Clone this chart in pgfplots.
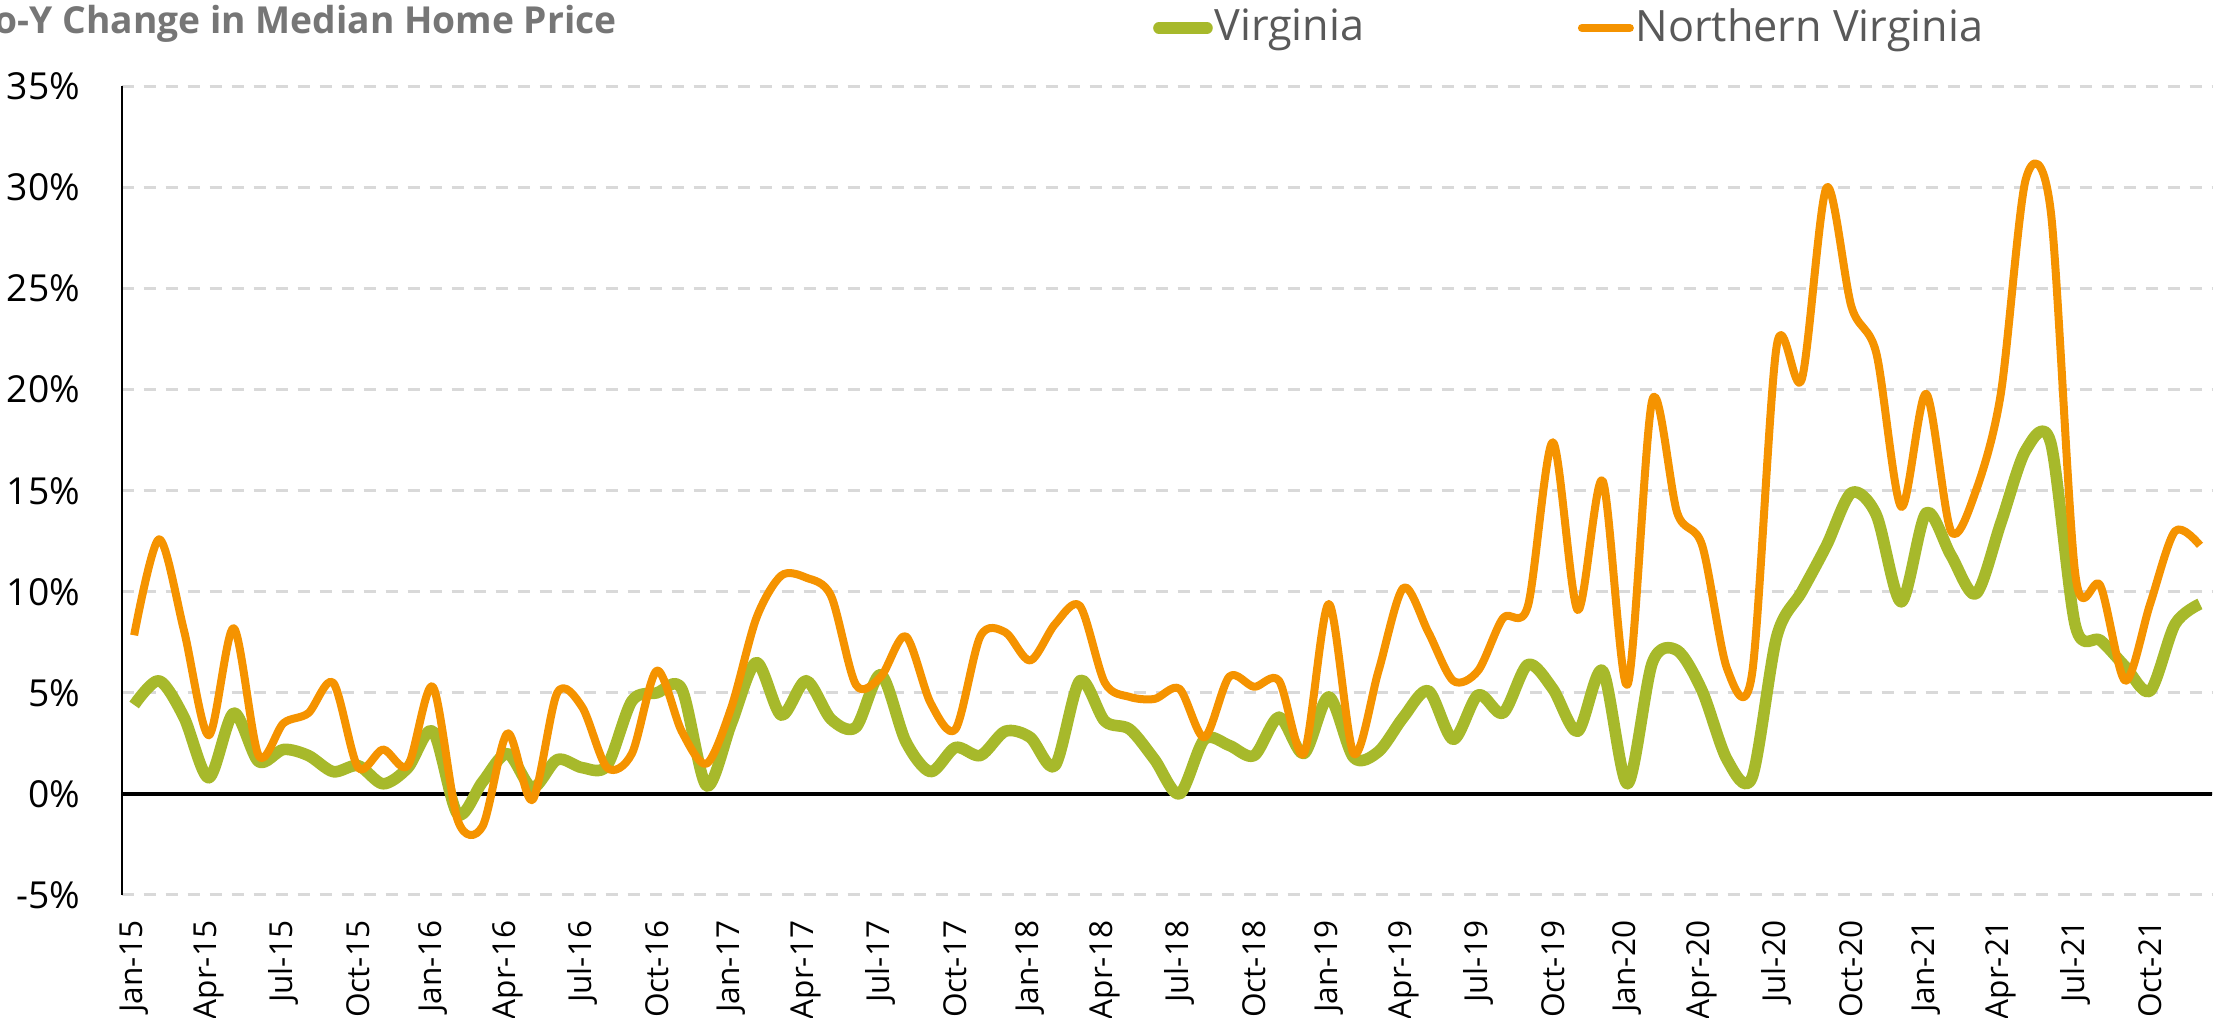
\documentclass[border=0pt]{standalone}
\usepackage{fontspec}
\setmainfont{Open Sans}
\usepackage{pgfplots}
\usepackage{pgfplotstable}
\pgfplotsset{compat=1.18}
\definecolor{vagreen}{HTML}{A7B92B}
\definecolor{novaorange}{HTML}{F59300}
\definecolor{gridgray}{HTML}{D9D9D9}
\definecolor{legendgray}{HTML}{595959}
\definecolor{titlegray}{HTML}{767676}

% month index (0 = Jan-15), Virginia, Northern Virginia (Y-o-Y %)
\pgfplotstableread{
idx va nova
0 4.4 7.85
1 5.6 12.6
2 3.8 8.1
3 0.8 2.9
4 4.0 8.2
5 1.6 1.9
6 2.2 3.5
7 1.9 4.0
8 1.1 5.5
9 1.4 1.3
10 0.5 2.2
11 1.3 1.4
12 3.1 5.3
13 -1.0 -1.3
14 0.6 -1.6
15 2.0 3.0
16 0.3 -0.3
17 1.7 5.0
18 1.3 4.3
19 1.4 1.3
20 4.6 2.0
21 5.0 6.1
22 5.2 3.1
23 0.4 1.5
24 3.5 4.3
25 6.5 8.7
26 3.9 10.8
27 5.6 10.7
28 3.7 9.8
29 3.3 5.4
30 5.9 5.8
31 2.6 7.8
32 1.1 4.5
33 2.3 3.2
34 1.9 7.8
35 3.1 8.0
36 2.8 6.6
37 1.4 8.4
38 5.6 9.3
39 3.6 5.5
40 3.2 4.8
41 1.7 4.7
42 0.0 5.2
43 2.7 2.8
44 2.4 5.8
45 1.9 5.3
46 3.8 5.6
47 2.0 2.0
48 4.8 9.4
49 1.8 2.0
50 2.1 6.1
51 3.8 10.2
52 5.1 8.0
53 2.7 5.6
54 4.9 6.1
55 4.0 8.7
56 6.4 9.3
57 5.2 17.4
58 3.1 9.1
59 6.1 15.5
60 0.5 5.4
61 6.5 19.5
62 7.1 13.9
63 5.1 12.3
64 1.7 6.2
65 0.8 5.9
66 7.8 22.2
67 10.0 20.5
68 12.3 30.0
69 14.9 24.1
70 13.8 21.8
71 9.5 14.2
72 13.9 19.8
73 11.8 13.0
74 9.9 15.0
75 13.4 19.8
76 17.0 30.4
77 17.4 28.9
78 8.3 10.8
79 7.6 10.3
80 6.3 5.6
81 5.1 9.4
82 8.4 13.0
83 9.4 12.3
}\pricedata

\begin{document}
\begin{tikzpicture}
\useasboundingbox (0,0) rectangle (555.25pt,254.5pt);
\begin{axis}[
    at={(30.425pt,30.75pt)}, anchor=south west,
    scale only axis,
    width=522.675pt, height=202.125pt,
    xmin=-0.5, xmax=83.5,
    ymin=-5, ymax=35,
    xtick={0,3,...,81},
    xticklabels={Jan-15,Apr-15,Jul-15,Oct-15,Jan-16,Apr-16,Jul-16,Oct-16,
        Jan-17,Apr-17,Jul-17,Oct-17,Jan-18,Apr-18,Jul-18,Oct-18,
        Jan-19,Apr-19,Jul-19,Oct-19,Jan-20,Apr-20,Jul-20,Oct-20,
        Jan-21,Apr-21,Jul-21,Oct-21},
    ytick={-5,0,...,35},
    yticklabel={\pgfmathprintnumber{\tick}\%},
    /pgf/number format/assume math mode=true,
    axis x line*=bottom,
    axis y line*=left,
    x axis line style={draw=none},
    y axis line style={black, line width=0.5pt, -},
    major tick length=0pt,
    ymajorgrids,
    major grid style={gridgray, line width=0.75pt, dash pattern=on 3pt off 2.5pt},
    extra y ticks={0},
    extra y tick labels={},
    extra y tick style={grid=major, major grid style={black, solid, line width=1pt}},
    xticklabel style={font=\fontsize{7.9}{9}\selectfont, rotate=90, anchor=east, inner sep=0pt},
    xticklabel shift=6.25pt,
    yticklabel style={font=\fontsize{9.3}{11}\selectfont, anchor=east, inner sep=0pt},
    yticklabel shift=10.25pt,
    legend style={at={(0.4930,1.0724)}, anchor=west, draw=none, fill=none,
        legend columns=2, font=\fontsize{10.8}{13}\selectfont, text=legendgray,
        inner sep=0pt, nodes={inner sep=0.4pt},
        /tikz/every even column/.append style={column sep=53pt}},
    legend image code/.code={\draw[#1, line cap=round] (0pt,0pt) -- (12pt,0pt);},
]
\addplot[vagreen, line width=2.9pt, smooth, line join=round] table[x=idx, y=va] {\pricedata};
\addlegendentry{Virginia}
\addplot[novaorange, line width=2.0pt, smooth, line join=round] table[x=idx, y=nova] {\pricedata};
\addlegendentry{Northern Virginia}
\end{axis}
\node[anchor=base west, inner sep=0pt, font=\fontsize{9.3}{11}\selectfont\bfseries, text=titlegray]
    at (-10.3pt,246pt) {Y-o-Y Change in Median Home Price};
\end{tikzpicture}
\end{document}
